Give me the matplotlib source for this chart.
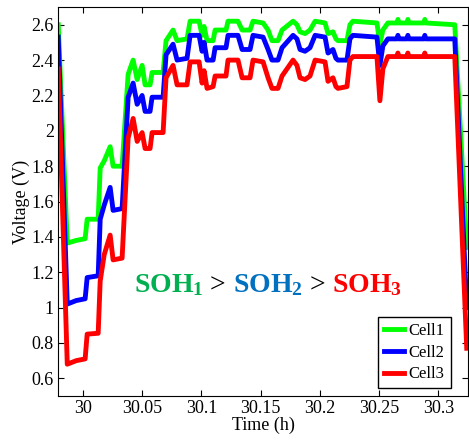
import numpy as np
import matplotlib.pyplot as plt
from matplotlib.offsetbox import TextArea, HPacker, AnchoredOffsetbox

plt.rcParams['font.family'] = 'Liberation Serif'
plt.rcParams['mathtext.fontset'] = 'custom'
plt.rcParams['mathtext.rm'] = 'Liberation Serif'
plt.rcParams['mathtext.bf'] = 'Liberation Serif:bold'

# datos
tiempo_h = [29.9792, 29.9868, 29.9944, 30.0019, 30.0036, 30.0129, 30.0146, 30.0180,
            30.0230, 30.0255, 30.0331, 30.0382, 30.0424, 30.0458, 30.0500, 30.0525,
            30.0567, 30.0584, 30.0677, 30.0702, 30.0761, 30.0795, 30.0879, 30.0905,
            30.0981, 30.1006, 30.1023, 30.1048, 30.1099, 30.1116, 30.1208, 30.1225,
            30.1309, 30.1344, 30.1411, 30.1436, 30.1521, 30.1563, 30.1596, 30.1647,
            30.1681, 30.1774, 30.1807, 30.1833, 30.1875, 30.1917, 30.1960, 30.2044,
            30.2069, 30.2111, 30.2136, 30.2153, 30.2229, 30.2254, 30.2279, 30.2482,
            30.2507, 30.2532, 30.2574, 30.2651, 30.2659, 30.2667, 30.2735, 30.2743,
            30.2751, 30.2878, 30.2886, 30.2894, 30.3139, 30.3240]

cell1 = [2.60, 1.365, 1.38, 1.39, 1.50, 1.50, 1.79, 1.83,
         1.91, 1.80, 1.80, 2.32, 2.40, 2.29, 2.37, 2.26,
         2.26, 2.33, 2.33, 2.51, 2.57, 2.51, 2.52, 2.62,
         2.62, 2.54, 2.59, 2.51, 2.51, 2.57, 2.57, 2.62,
         2.62, 2.57, 2.57, 2.62, 2.61, 2.57, 2.51, 2.51,
         2.57, 2.62, 2.60, 2.56, 2.55, 2.57, 2.62, 2.61,
         2.55, 2.56, 2.52, 2.51, 2.51, 2.60, 2.62, 2.61,
         2.49, 2.57, 2.61, 2.61, 2.63, 2.61, 2.61, 2.63,
         2.61, 2.61, 2.63, 2.61, 2.60, 1.34]

cell2 = [2.53, 1.02, 1.04, 1.05, 1.17, 1.18, 1.50, 1.58,
         1.68, 1.55, 1.56, 2.19, 2.27, 2.15, 2.20, 2.11,
         2.11, 2.19, 2.19, 2.43, 2.49, 2.40, 2.41, 2.54,
         2.54, 2.45, 2.50, 2.40, 2.40, 2.47, 2.47, 2.54,
         2.54, 2.46, 2.46, 2.54, 2.53, 2.46, 2.40, 2.40,
         2.47, 2.54, 2.52, 2.46, 2.45, 2.47, 2.54, 2.53,
         2.44, 2.46, 2.41, 2.40, 2.40, 2.52, 2.54, 2.53,
         2.37, 2.48, 2.52, 2.52, 2.54, 2.52, 2.52, 2.54,
         2.52, 2.52, 2.54, 2.52, 2.52, 1.00]

cell3 = [2.35, 0.68, 0.70, 0.71, 0.85, 0.855, 1.15, 1.30,
         1.41, 1.27, 1.28, 1.96, 2.07, 1.94, 1.99, 1.90,
         1.90, 1.99, 1.99, 2.30, 2.37, 2.26, 2.26, 2.39,
         2.39, 2.27, 2.34, 2.24, 2.25, 2.31, 2.31, 2.40,
         2.40, 2.30, 2.30, 2.40, 2.39, 2.30, 2.24, 2.24,
         2.31, 2.40, 2.37, 2.30, 2.29, 2.31, 2.40, 2.39,
         2.28, 2.30, 2.25, 2.24, 2.25, 2.40, 2.42, 2.42,
         2.17, 2.35, 2.42, 2.42, 2.44, 2.42, 2.42, 2.44,
         2.42, 2.42, 2.44, 2.42, 2.42, 0.77]

X_TICKS = [30, 30.05, 30.1, 30.15, 30.2, 30.25, 30.3]
X_LABELS = ['30', '30.05', '30.1', '30.15', '30.2', '30.25', '30.3']
Y_TICKS = [0.6, 0.8, 1, 1.2, 1.4, 1.6, 1.8, 2, 2.2, 2.4, 2.6]
Y_LABELS = ['0.6', '0.8', '1', '1.2', '1.4', '1.6', '1.8', '2', '2.2', '2.4', '2.6']

fig = plt.figure(figsize=(4.69, 4.41), dpi=100)
ax = fig.add_axes([0.1237, 0.102, 0.874, 0.882])
ax.plot(tiempo_h, cell1, color='#00ff00', lw=3.5, label='Cell1')
ax.plot(tiempo_h, cell2, color='#0000ff', lw=3.5, label='Cell2')
ax.plot(tiempo_h, cell3, color='#ff0000', lw=3.5, label='Cell3')

ax.set_xlim(29.979, 30.325)
ax.set_ylim(0.5, 2.7)
ax.set_xticks(X_TICKS)
ax.set_xticklabels(X_LABELS)
ax.set_yticks(Y_TICKS)
ax.set_yticklabels(Y_LABELS)
ax.tick_params(direction='in', length=4, top=True, right=True, labelsize=13, pad=3)
ax.set_xlabel('Time (h)', fontsize=13, labelpad=0)
ax.set_ylabel('Voltage (V)', fontsize=13, labelpad=1)

leg = ax.legend(loc='lower right', bbox_to_anchor=(0.958, 0.02), borderaxespad=0,
                fontsize=12, fancybox=False, edgecolor='black', framealpha=1,
                handlelength=1.2, handletextpad=0.3, borderpad=0.35, labelspacing=0.35)
leg.get_frame().set_linewidth(1.0)

# texto SOH
partes = [(r'$\mathbf{SOH_1}$', '#00b050'), (' > ', 'black'),
          (r'$\mathbf{SOH_2}$', '#0070c0'), (' > ', 'black'),
          (r'$\mathbf{SOH_3}$', '#ff0000')]
cajas = [TextArea(s, textprops=dict(color=c, fontsize=20)) for s, c in partes]
fila = HPacker(children=cajas, align='baseline', pad=0, sep=0)
anc = AnchoredOffsetbox(loc='center', child=fila, frameon=False, pad=0, borderpad=0,
                        bbox_to_anchor=(0.512, 0.285), bbox_transform=ax.transAxes)
ax.add_artist(anc)

plt.savefig('out.png', dpi=100)
